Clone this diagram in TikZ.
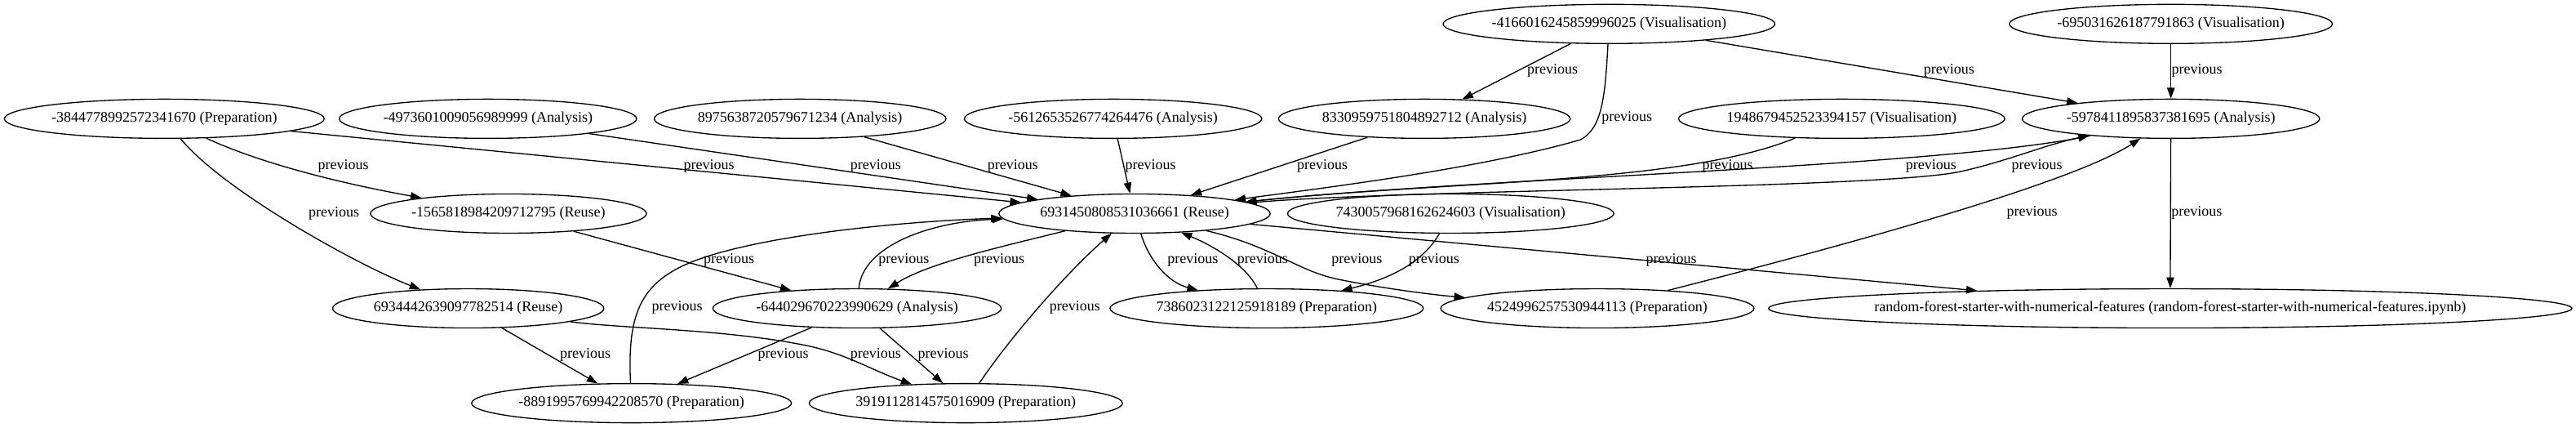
\documentclass[tikz,border=0pt]{standalone}
\usepackage{fontspec}
\setmainfont{Liberation Serif}
\usetikzlibrary{arrows.meta,shapes.geometric}
\begin{document}
\begin{tikzpicture}[x=1.5096pt,y=-1.5096pt,
  nd/.style={ellipse, draw, line width=1pt, inner xsep=-12pt, inner ysep=0pt,
    minimum height=36pt, minimum width=#1*1.5096pt, font=\fontsize{13.5}{16}\selectfont},
  lb/.style={inner sep=0pt, font=\fontsize{13.5}{16}\selectfont},
  ed/.style={-{Triangle[length=10pt,width=7pt]}, line width=1pt}]
\useasboundingbox (0,0) rectangle (1568,259.85);
% rank 0
\node[nd=202] (n4166) at (979.4,14.57) {-4166016245859996025 (Visualisation)};
\node[nd=196.6] (n6950) at (1321.4,14.57) {-695031626187791863 (Visualisation)};
% rank 1
\node[nd=194.7] (n3844) at (100,72.24) {-3844778992572341670 (Preparation)};
\node[nd=181] (n4973) at (297,72.24) {-4973601009056989999 (Analysis)};
\node[nd=177.6] (n8975) at (487,72.24) {8975638720579671234 (Analysis)};
\node[nd=181] (n5612) at (677.5,72.24) {-5612653526774264476 (Analysis)};
\node[nd=177.6] (n8330) at (867,72.24) {8330959751804892712 (Analysis)};
\node[nd=198.6] (n1948) at (1121,72.24) {1948679452523394157 (Visualisation)};
\node[nd=181] (n5978) at (1321.4,72.24) {-5978411895837381695 (Analysis)};
% rank 2
\node[nd=168] (n1565) at (309.5,129.91) {-1565818984209712795 (Reuse)};
\node[nd=165.1] (n6931) at (690.6,129.91) {6931450808531036661 (Reuse)};
\node[nd=198.6] (n7430) at (883,129.91) {7430057968162624603 (Visualisation)};
% rank 3
\node[nd=165.1] (n6934) at (285,187.58) {6934442639097782514 (Reuse)};
\node[nd=175.6] (n6440) at (521.7,187.58) {-644029670223990629 (Analysis)};
\node[nd=190.7] (n7386) at (771,187.58) {7386023122125918189 (Preparation)};
\node[nd=190.7] (n4524) at (972.3,187.58) {4524996257530944113 (Preparation)};
\node[nd=489] (rf) at (1321,187.58) {random-forest-starter-with-numerical-features (random-forest-starter-with-numerical-features.ipynb)};
% rank 4
\node[nd=194.7] (n8891) at (384.4,245.25) {-8891995769942208570 (Preparation)};
\node[nd=190.7] (n3919) at (587.9,245.25) {3919112814575016909 (Preparation)};
% edges
\draw[ed] (n4166) -- (n8330);
\draw[ed] (n4166) .. controls (977,60) and (975,78) .. (962,85) .. controls (900,103) and (800,115) .. (n6931);
\draw[ed] (n4166) -- (n5978);
\draw[ed] (n6950) -- (n5978);
\draw[ed] (n3844) .. controls (160,100) and (210,112) .. (n1565);
\draw[ed] (n3844) -- (n6931);
\draw[ed] (n3844) .. controls (135,115) and (215,160) .. (n6934);
\draw[ed] (n4973) -- (n6931);
\draw[ed] (n8975) -- (n6931);
\draw[ed] (n5612) -- (n6931);
\draw[ed] (n8330) -- (n6931);
\draw[ed] (n1948) .. controls (1025,112) and (880,110) .. (n6931);
\draw[ed] (n5978) .. controls (1180,102) and (900,108) .. (n6931);
\draw[ed] (n6931) .. controls (850,115) and (1150,115) .. (1195,104) .. controls (1225,97) and (1245,88) .. (n5978);
\draw[ed] (n4524) .. controls (1120,150) and (1260,112) .. (n5978);
\draw[ed] (n5978) -- (rf);
\draw[ed] (n6931) -- (rf);
\draw[ed] (n6931) .. controls (610,150) and (565,160) .. (n6440);
\draw[ed] (n6440) .. controls (525,150) and (565,135) .. (n6931);
\draw[ed] (n6931) .. controls (700,160) and (712,172) .. (n7386);
\draw[ed] (n7386) .. controls (758,160) and (735,148) .. (n6931);
\draw[ed] (n6931) .. controls (775,150) and (790,165) .. (815,170) .. controls (850,177) and (880,180) .. (n4524);
\draw[ed] (n7430) .. controls (866,160) and (845,170) .. (n7386);
\draw[ed] (n1565) -- (n6440);
\draw[ed] (n6934) -- (n8891);
\draw[ed] (n6934) .. controls (380,200) and (440,200) .. (490,210) .. controls (515,215) and (530,225) .. (n3919);
\draw[ed] (n6440) -- (n8891);
\draw[ed] (n6440) -- (n3919);
\draw[ed] (n8891) .. controls (382,195) and (388,175) .. (415,162) .. controls (450,145) and (540,135) .. (n6931);
\draw[ed] (n3919) .. controls (615,205) and (650,165) .. (n6931);
% labels
\node[lb] (l1) at (945,43) {previous};
\node[lb] (l2) at (990.3,71.7) {previous};
\node[lb] (l3) at (1186.4,43) {previous};
\node[lb] (l4) at (1337.3,43) {previous};
\node[lb] (l5) at (209,101) {previous};
\node[lb] (l6) at (203.3,129.8) {previous};
\node[lb] (l7) at (431.5,101) {previous};
\node[lb] (l8) at (533,101) {previous};
\node[lb] (l9) at (616.5,101) {previous};
\node[lb] (l10) at (700.3,101) {previous};
\node[lb] (l11) at (804.9,101) {previous};
\node[lb] (l12) at (1051.6,101) {previous};
\node[lb] (l13) at (1175.4,101) {previous};
\node[lb] (l14) at (1239.9,101) {previous};
\node[lb] (l15) at (1236.9,129.5) {previous};
\node[lb] (l16) at (1337.1,129.5) {previous};
\node[lb] (l17) at (443.7,158.3) {previous};
\node[lb] (l18) at (550.2,158.3) {previous};
\node[lb] (l19) at (608.2,158.3) {previous};
\node[lb] (l20) at (726,158.3) {previous};
\node[lb] (l21) at (768.5,158.3) {previous};
\node[lb] (l22) at (825.9,158.3) {previous};
\node[lb] (l23) at (872.9,158.3) {previous};
\node[lb] (l24) at (1017.3,158.3) {previous};
\node[lb] (l25) at (412.2,187) {previous};
\node[lb] (l26) at (654.2,187) {previous};
\node[lb] (l27) at (356.3,215.9) {previous};
\node[lb] (l28) at (476.8,215.9) {previous};
\node[lb] (l29) at (533,215.9) {previous};
\node[lb] (l30) at (574.1,215.9) {previous};
\end{tikzpicture}
\end{document}
